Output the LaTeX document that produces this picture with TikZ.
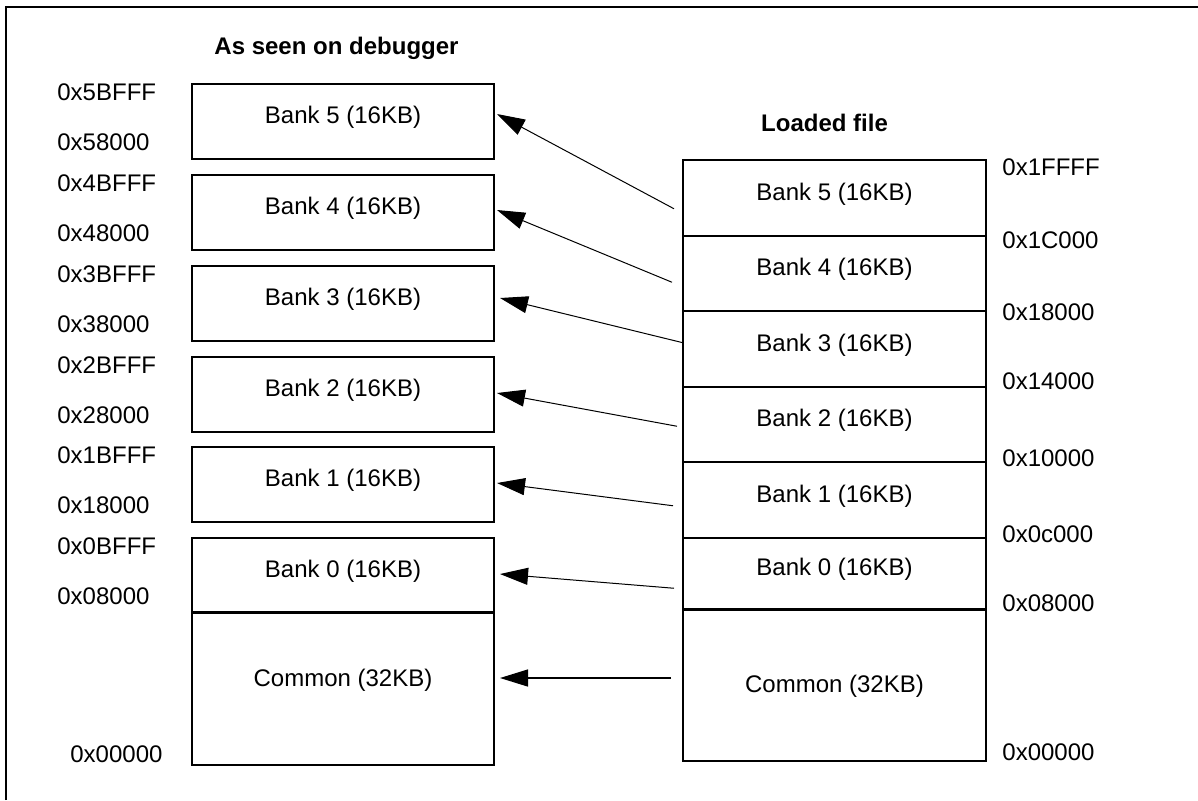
\documentclass[tikz,border=0pt]{standalone}
\usepackage{fontspec}
\setmainfont{Liberation Sans}
\usetikzlibrary{arrows.meta, positioning, calc}

\begin{document}
\begin{tikzpicture}[x=0.5pt, y=-0.5pt,
  every node/.style={font=\fontsize{12}{14}\selectfont},
  lbox/.style={draw, line width=1pt, minimum width=151pt, minimum height=37.5pt,
               inner sep=0pt, outer sep=0pt, text height=8.6pt, text depth=6pt},
  rbox/.style={draw, line width=1pt, minimum width=151.5pt, minimum height=37.75pt,
               inner sep=0pt, outer sep=0pt, text height=8.6pt, text depth=6pt},
  addr/.style={anchor=west, inner sep=0pt},
  head/.style={font=\fontsize{12}{14}\selectfont\bfseries},
  link/.style={-{Triangle[length=14pt,width=8.5pt]}, line width=0.5pt}]
\useasboundingbox (0,0) rectangle (1198,800);
\draw[line width=1pt] (6,800) -- (6,7) -- (1198,7);
%
\node[head] (dbg) at (336.5,48) {As seen on debugger};
\node[head] (ldf) at (824.5,123) {Loaded file};
%
% as seen on debugger
\foreach \n/\hi/\lo/\y in {5/5BFFF/58000/121, 4/4BFFF/48000/212, 3/3BFFF/38000/303,
                          2/2BFFF/28000/394, 1/1BFFF/18000/484, 0/0BFFF/08000/575} {
  \node[lbox] (l\n) at (343,\y) {Bank \n\ (16KB)};
  \node[addr] (hi\n) at (57,{\y-28.5}) {0x\hi};
  \node[addr] (lo\n) at (57,{\y+21.5}) {0x\lo};
}
\node[lbox, minimum height=76.5pt, text depth=11pt] (lc) at (343,688.5) {Common (32KB)};
\node[addr] (lo-c) at (70,754) {0x00000};
%
% loaded file
\node[rbox] (r5) at (834.5,197.75) {Bank 5 (16KB)};
\node[rbox, below=0pt of r5] (r4) {Bank 4 (16KB)};
\node[rbox, below=0pt of r4] (r3) {Bank 3 (16KB)};
\node[rbox, below=0pt of r3] (r2) {Bank 2 (16KB)};
\node[rbox, below=0pt of r2] (r1) {Bank 1 (16KB)};
\node[rbox, below=0pt of r1, minimum height=35.75pt] (r0) {Bank 0 (16KB)};
\node[rbox, below=0pt of r0, minimum height=76pt, text depth=1pt] (rc) {Common (32KB)};
\draw[line width=1.5pt] (r0.south west) -- (r0.south east);
\foreach \t/\y [count=\i] in {0x1FFFF/167, 0x1C000/240, 0x18000/312, 0x14000/381,
                              0x10000/458, 0x0c000/534, 0x08000/603, 0x00000/752}
  \node[addr] (ra\i) at (1002,\y) {\t};
%
\foreach \n/\sx/\sy/\tx/\ty in {5/-9/11/3/-7, 4/-11/9/3/-2, 3/0/-6/6/-5,
                                2/-6/2/3/-1, 1/-10/6/3/-1, 0/-9/15/6/-1}
  \draw[link] ($(r\n.west)+(\sx,\sy)$) -- ($(l\n.east)+(\tx,\ty)$);
\draw[link, line width=0.7pt] ($(rc.west)+(-12,-7)$) -- ($(lc.east)+(6,-10.5)$);
%
\end{tikzpicture}
\end{document}
